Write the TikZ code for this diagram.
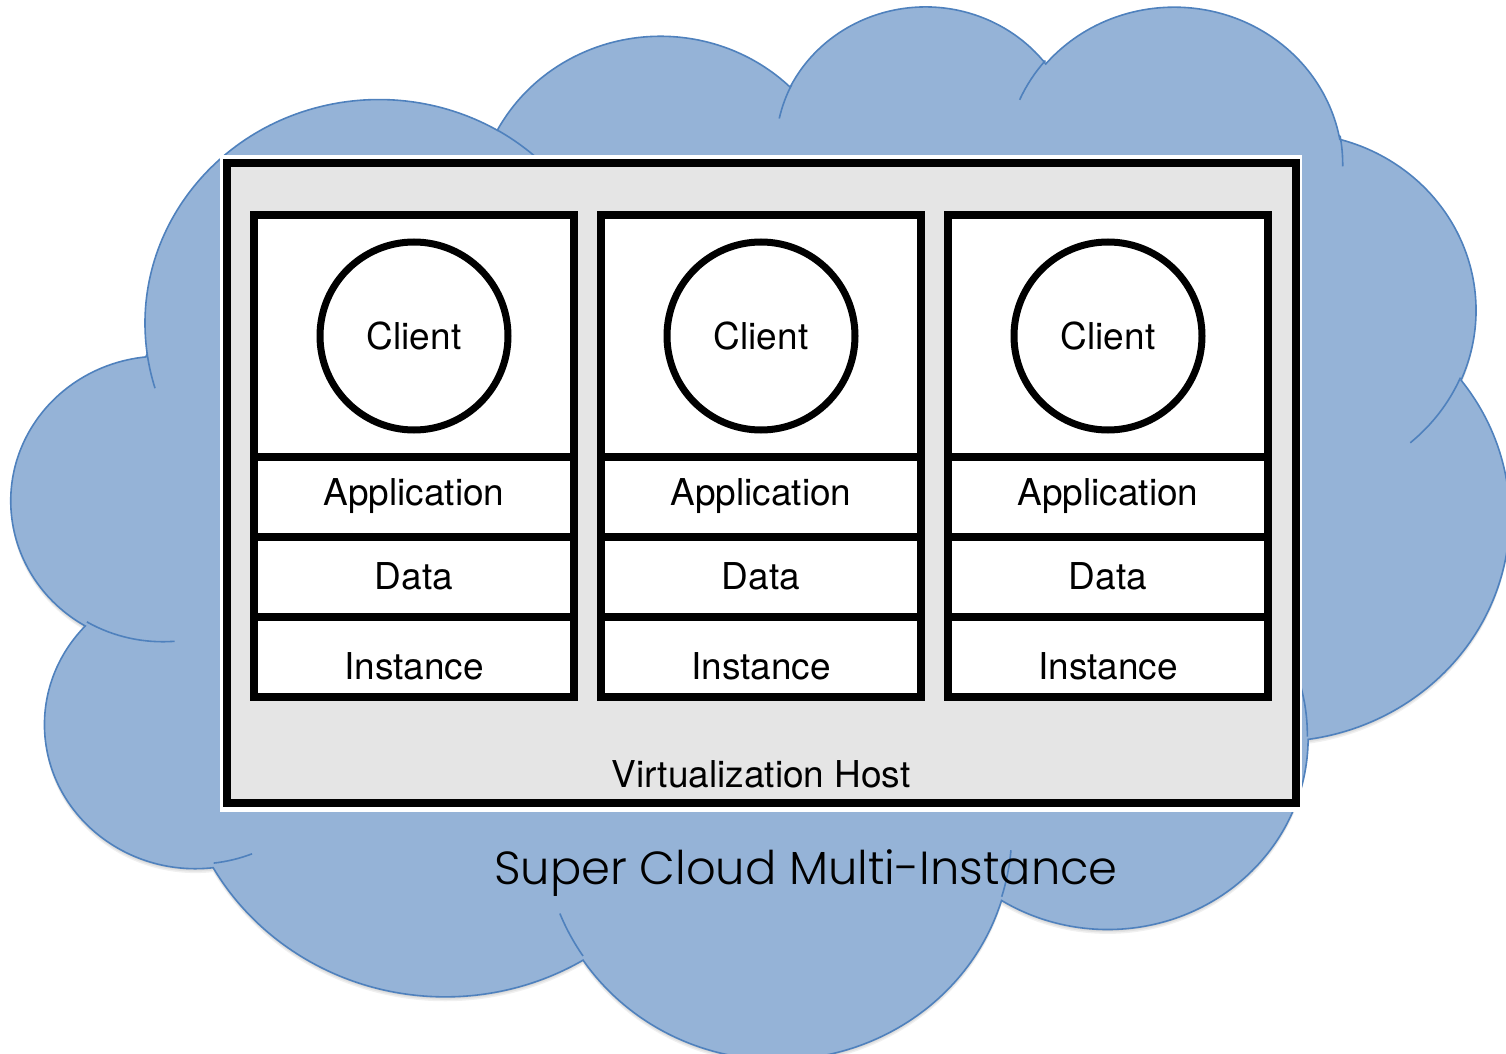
\documentclass[tikz,border=0pt]{standalone}
\usepackage{fontspec}
\setmainfont{TeX Gyre Heros}
\newfontfamily\titlefont{Poppins Light}
\usetikzlibrary{positioning}

\definecolor{cloudfill}{HTML}{95B3D7}
\definecolor{cloudline}{HTML}{4F81BD}
\definecolor{hostgray}{HTML}{E5E5E5}

% cloud outline, one elliptic lobe per arc (radii and angles in hundredths)
\newcommand\cloudoutline{(39.00,143.70)
  arc[lobe={67.53}{91.90}{-190.4875}{123.7805}]
  arc[lobe={53.33}{72.67}{-144.1024}{89.9452}]
  arc[lobe={43.65}{59.45}{-145.8079}{99.7230}]
  arc[lobe={48.57}{65.95}{-130.9861}{117.2417}]
  arc[lobe={53.33}{72.73}{-78.7089}{109.0269}]
  arc[lobe={67.75}{92.20}{-46.2673}{130.2690}]
  arc[lobe={57.85}{78.67}{0.6250}{114.0333}]
  arc[lobe={67.52}{92.15}{22.4516}{115.1726}]
  arc[lobe={77.20}{105.43}{66.2426}{75.7110}]
  arc[lobe={43.60}{59.18}{-274.9421}{146.7356}]
  arc[lobe={43.45}{59.45}{-246.8285}{152.5189}]
  -- cycle}

\begin{document}
\begin{tikzpicture}[
    x=0.5pt, y=-0.5pt,
    declare function={vis(\a,\w,\h)=atan2(\w*sin(\a),\h*cos(\a));},
    lobe/.style n args={4}{x radius=#1, y radius=#2,
      start angle={vis(#3,#1,#2)},
      delta angle={mod(vis(#3+#4,#1,#2)-vis(#3,#1,#2)+720,360)}},
    cloudedge/.style={draw=cloudline, line width=0.8pt},
    host/.style={draw=black, line width=4pt, fill=hostgray},
    layer/.style={rectangle, draw, line width=4pt, fill=white, outer sep=0pt,
      inner sep=0pt, minimum width=160pt, minimum height=40pt,
      font=\fontsize{18.5}{20}\selectfont},
    client/.style={circle, draw, line width=3.5pt, fill=white, inner sep=0pt,
      minimum size=94pt, font=\fontsize{18.5}{20}\selectfont}
  ]

  \useasboundingbox (0,0) rectangle (1506,1054);
  \clip (0,0) rectangle (1506,1054);

  % Cloud
  \begin{scope}[shift={(12,3.5)}, x=1.73265pt, y=-1.21825pt]
    \foreach \d in {0.6,1.2,1.8}
      \fill[black, opacity=0.06, shift={(0,\d)}] \cloudoutline;
    \fill[cloudfill] \cloudoutline;
    \draw[cloudedge] \cloudoutline;
    % inner bits of the lobes
    \draw[cloudedge]
      (46.93,261.77) arc[lobe={43.45}{59.45}{86.7420}{26.4295}]
      (69.28,348.99) arc[lobe={43.60}{59.18}{73.6105}{11.4475}]
      (164.78,390.90) arc[lobe={67.52}{92.15}{137.6242}{14.0811}]
      (288.27,347.51) arc[lobe={67.52}{92.15}{6.4533}{15.9984}]
      (341.29,229.54) arc[lobe={57.85}{78.67}{-70.2924}{70.9174}]
      (417.98,153.54) arc[lobe={53.33}{72.73}{30.3180}{27.7515}]
      (383.24,54.26) arc[lobe={48.57}{65.95}{-13.7443}{14.8589}]
      (290.78,39.52) arc[lobe={48.57}{65.95}{-149.1815}{18.1954}]
      (221.41,47.20) arc[lobe={43.65}{59.45}{-163.4943}{17.6864}]
      (140.00,51.92) arc[lobe={67.53}{91.90}{-66.7070}{12.3194}]
      (41.27,157.89) arc[lobe={67.53}{91.90}{157.6544}{11.8582}];
  \end{scope}

  % Host
  \fill[white] (220,155) rectangle (1302,812);
  \draw[host] (227,163) rectangle (1296,803);
  \node[anchor=base, font=\fontsize{18.5}{20}\selectfont] (hostname) at (761,787) {Virtualization Host};

  % Instances
  \foreach \i/\cx in {1/414, 2/761, 3/1108} {
    \node[layer, minimum height=120.5pt] (top\i) at (\cx,336) {};
    \node[client] (client\i) at (top\i.center) {Client};
    \node[layer, below=0pt of top\i] (app\i) {Application};
    \node[layer, below=0pt of app\i] (data\i) {Data};
    \node[layer, below=0pt of data\i,
      label={[yshift=-5pt, font=\fontsize{18.5}{20}\selectfont]center:Instance}] (inst\i) {};
  }

  \node[anchor=base, font=\titlefont\fontsize{23.2}{28}\selectfont] (title) at (806,884) {Super Cloud Multi-Instance};

\end{tikzpicture}
\end{document}
